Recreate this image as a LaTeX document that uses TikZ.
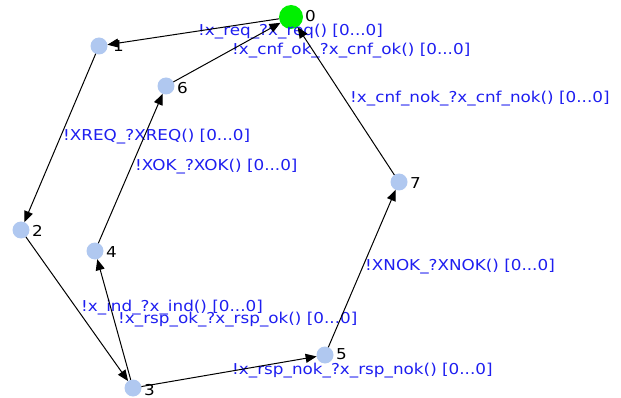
\documentclass[tikz,border=0pt]{standalone}
\usepackage{fontspec}
\setmainfont{DejaVu Sans}[FakeStretch=1.12]
\usetikzlibrary{arrows.meta}
\definecolor{lbl}{RGB}{30,30,240}
\definecolor{st}{RGB}{176,200,240}
\definecolor{init}{RGB}{0,240,0}
\begin{document}
\begin{tikzpicture}[x=1pt,y=-1pt,
  state/.style={circle,fill=st,draw=none,minimum size=17pt,inner sep=0,outer sep=0},
  initstate/.style={circle,fill=init,draw=none,minimum size=24pt,inner sep=0,outer sep=0},
  num/.style={anchor=west,inner sep=0,text=black,font=\fontsize{15}{15}\selectfont},
  elabel/.style={anchor=west,inner sep=0,text=lbl,font=\fontsize{15}{15}\selectfont},
  edge/.style={draw=black,line width=1pt,-{Triangle[length=11pt,width=9pt]}}
]
\useasboundingbox (0,0) rectangle (621,398);
% states
\node[initstate] (s0) at (291,17) {};
\node[state] (s1) at (99,46) {};
\node[state] (s6) at (166,86) {};
\node[state] (s7) at (399,182) {};
\node[state] (s2) at (21,230) {};
\node[state] (s4) at (95,251) {};
\node[state] (s3) at (133,388) {};
\node[state] (s5) at (325,355) {};
% state numbers
\node[num] (n0) at (305,16) {0};
\node[num] (n1) at (113,46) {1};
\node[num] (n6) at (177,88) {6};
\node[num] (n7) at (410,183) {7};
\node[num] (n2) at (32,231) {2};
\node[num] (n4) at (106,252) {4};
\node[num] (n3) at (144,390) {3};
\node[num] (n5) at (336,354) {5};
% edge labels
\node[elabel] (l01) at (198,32) {!x\_req\_?x\_req() [0...0]};
\node[elabel] (l60) at (232,51) {!x\_cnf\_ok\_?x\_cnf\_ok() [0...0]};
\node[elabel] (l70) at (350,99) {!x\_cnf\_nok\_?x\_cnf\_nok() [0...0]};
\node[elabel] (l12) at (63,137) {!XREQ\_?XREQ() [0...0]};
\node[elabel] (l46) at (135,167) {!XOK\_?XOK() [0...0]};
\node[elabel] (l23) at (81,308) {!x\_ind\_?x\_ind() [0...0]};
\node[elabel] (l34) at (118,320) {!x\_rsp\_ok\_?x\_rsp\_ok() [0...0]};
\node[elabel] (l35) at (232,371) {!x\_rsp\_nok\_?x\_rsp\_nok() [0...0]};
\node[elabel] (l57) at (365,267) {!XNOK\_?XNOK() [0...0]};
% edges
\draw[edge] (s0) -- (s1);
\draw[edge] (s1) -- (s2);
\draw[edge] (s2) -- (s3);
\draw[edge] (s3) -- (s4);
\draw[edge] (s4) -- (s6);
\draw[edge] (s6) -- (s0);
\draw[edge] (s3) -- (s5);
\draw[edge] (s5) -- (s7);
\draw[edge] (s7) -- (s0);
\end{tikzpicture}
\end{document}
